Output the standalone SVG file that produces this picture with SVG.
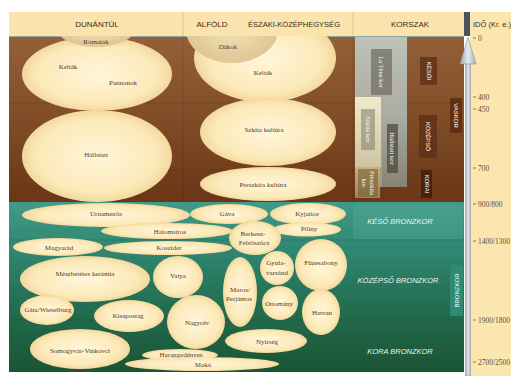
<svg xmlns="http://www.w3.org/2000/svg" width="511" height="376" viewBox="0 0 511 376">
<defs>
  <linearGradient id="brown" x1="0" y1="0" x2="0" y2="1">
    <stop offset="0" stop-color="#93603a"/>
    <stop offset="0.45" stop-color="#824f29"/>
    <stop offset="1" stop-color="#6a3617"/>
  </linearGradient>
  <linearGradient id="green" x1="0" y1="0" x2="0" y2="1">
    <stop offset="0" stop-color="#409b88"/>
    <stop offset="0.3" stop-color="#2f8570"/>
    <stop offset="0.6" stop-color="#236f51"/>
    <stop offset="1" stop-color="#1a5434"/>
  </linearGradient>
  <radialGradient id="cream" cx="0.5" cy="0.5" r="0.5">
    <stop offset="0" stop-color="#fff6da"/>
    <stop offset="0.8" stop-color="#fce9b8"/>
    <stop offset="1" stop-color="#f3d89e"/>
  </radialGradient>
  <radialGradient id="tan" cx="0.5" cy="0.5" r="0.5">
    <stop offset="0" stop-color="#f2e2b8"/>
    <stop offset="1" stop-color="#dfc693"/>
  </radialGradient>
  <linearGradient id="latene" x1="0" y1="0" x2="0" y2="1">
    <stop offset="0" stop-color="#bec2b8"/>
    <stop offset="1" stop-color="#9a9888"/>
  </linearGradient>
  <linearGradient id="szkita" x1="0" y1="0" x2="0" y2="1">
    <stop offset="0" stop-color="#f1e9ca"/>
    <stop offset="1" stop-color="#cdc4a2"/>
  </linearGradient>
  <linearGradient id="hallst" x1="0" y1="0" x2="0" y2="1">
    <stop offset="0" stop-color="#acb0a8"/>
    <stop offset="1" stop-color="#868373"/>
  </linearGradient>
  <linearGradient id="preszk" x1="0" y1="0" x2="0" y2="1">
    <stop offset="0" stop-color="#cfb07a"/>
    <stop offset="1" stop-color="#a6834c"/>
  </linearGradient>
  <linearGradient id="shaft" x1="0" y1="0" x2="1" y2="0">
    <stop offset="0" stop-color="#9ca2ac"/>
    <stop offset="0.5" stop-color="#e6eaf0"/>
    <stop offset="1" stop-color="#a8aeb8"/>
  </linearGradient>
  <clipPath id="ironClip"><rect x="9" y="36" width="344" height="166"/></clipPath>
  <clipPath id="bronzeClip"><rect x="9" y="202" width="344" height="170"/></clipPath>
</defs>
<style>
  .hdr{font-family:"Liberation Sans",Arial,sans-serif;font-size:8px;fill:#3b2b18;text-anchor:middle}
  .lbl{font-family:"Liberation Serif","Times New Roman",serif;font-size:7px;fill:#4d3d2b;text-anchor:middle}
  .ell{fill:url(#cream)}
  .cap{fill:url(#tan)}
  .kl{font-family:"Liberation Serif","Times New Roman",serif;font-size:6.5px;fill:#ffffff;text-anchor:middle}
  .per{font-family:"Liberation Sans",Arial,sans-serif;font-size:6px;fill:#ffffff;text-anchor:middle}
  .brz{font-family:"Liberation Sans",Arial,sans-serif;font-size:7.5px;font-style:italic;fill:#eef4ef;text-anchor:middle}
  .tick{font-family:"Liberation Serif","Times New Roman",serif;font-size:7.5px;fill:#5e4c34}
  .tl{stroke:#6e5c44;stroke-width:0.8}
  .band{stroke:#000;stroke-opacity:0.12;stroke-width:1}
</style>

<rect x="0" y="0" width="511" height="376" fill="#ffffff"/>

<!-- header -->
<g id="header">
  <rect x="9" y="12" width="455" height="24" fill="#fae3ad"/>
  <rect x="470" y="12" width="41" height="364" fill="#fce6b0"/>
  <line x1="183" y1="12" x2="183" y2="36" stroke="#d9c394" stroke-width="1"/>
  <line x1="353" y1="12" x2="353" y2="36" stroke="#d9c394" stroke-width="1"/>
  <rect x="464" y="12" width="6" height="24" fill="#4b535a"/>
  <text class="hdr" x="97" y="27">DUNÁNTÚL</text>
  <text class="hdr" x="212" y="27">ALFÖLD</text>
  <text class="hdr" x="294" y="27" textLength="92" lengthAdjust="spacingAndGlyphs">ÉSZAKI-KÖZÉPHEGYSÉG</text>
  <text class="hdr" x="410" y="27">KORSZAK</text>
  <text class="hdr" x="473" y="27" style="text-anchor:start;font-size:7.5px">IDŐ (Kr. e.)</text>
</g>

<!-- backgrounds -->
<g id="iron-age-bg">
  <rect x="9" y="36" width="455" height="166" fill="url(#brown)"/>
  <line class="band" x1="9" y1="103" x2="464" y2="103"/>
  <line class="band" x1="9" y1="170" x2="464" y2="170"/>
  <line x1="183" y1="36" x2="183" y2="202" stroke="#000" stroke-opacity="0.1"/>
  <line x1="353" y1="36" x2="353" y2="202" stroke="#000" stroke-opacity="0.12"/>
  <line x1="9" y1="36.5" x2="464" y2="36.5" stroke="#8ea6a2" stroke-width="1"/>
</g>
<g id="bronze-age-bg">
  <rect x="9" y="202" width="455" height="170" fill="url(#green)"/>
  <rect x="353" y="205" width="110" height="34" fill="#5fb09a" fill-opacity="0.3"/>
  <line class="band" x1="9" y1="240" x2="464" y2="240"/>
  <line class="band" x1="9" y1="320" x2="464" y2="320"/>
</g>

<!-- iron age cultures -->
<g clip-path="url(#ironClip)">
  <g id="kelta-dunantul">
    <ellipse class="ell" cx="97" cy="74" rx="75" ry="37"/>
    <text class="lbl" x="68" y="69">Kelták</text>
    <text class="lbl" x="123" y="85">Pannonok</text>
  </g>
  <g id="romaiak">
    <ellipse class="cap" cx="96" cy="30" rx="38" ry="17"/>
    <text class="lbl" x="96" y="44">Rómaiak</text>
  </g>
  <g id="hallstatt">
    <ellipse class="ell" cx="97" cy="156" rx="75" ry="46"/>
    <text class="lbl" x="96" y="157">Hallstatt</text>
  </g>
  <g id="kelta-eszak">
    <ellipse class="ell" cx="265" cy="58" rx="71" ry="44"/>
    <text class="lbl" x="263" y="75">Kelták</text>
  </g>
  <g id="dakok">
    <ellipse class="cap" cx="232" cy="30" rx="46" ry="33"/>
    <text class="lbl" x="228" y="49">Dákok</text>
  </g>
  <g id="szkita-kultura">
    <ellipse class="ell" cx="268" cy="132" rx="68" ry="34"/>
    <text class="lbl" x="264" y="132">Szkíta kultúra</text>
  </g>
  <g id="preszkita-kultura">
    <ellipse class="ell" cx="268" cy="184" rx="68" ry="17"/>
    <text class="lbl" x="263" y="187">Preszkíta kultúra</text>
  </g>
</g>

<!-- iron age periods -->
<g id="la-tene-kor">
  <rect x="355" y="37" width="52" height="150" fill="url(#latene)"/>
  <rect x="371" y="49" width="21" height="46" fill="#6f6a5c" fill-opacity="0.7"/>
  <text class="kl" transform="translate(381.5,72) rotate(90)" y="2.2">La Tène kor</text>
</g>
<g id="szkita-kor">
  <rect x="355" y="97" width="26" height="70" fill="url(#szkita)"/>
  <rect x="361" y="109" width="14" height="41" fill="#8a8470" fill-opacity="0.6"/>
  <text class="kl" transform="translate(368,129.5) rotate(90)" y="2.2">Szkíta kor</text>
</g>
<g id="hallstatt-kor">
  <rect x="382" y="110" width="25" height="77" fill="url(#hallst)"/>
  <rect x="387" y="124" width="11" height="49" fill="#4e4a40" fill-opacity="0.75"/>
  <text class="kl" transform="translate(392.5,148.5) rotate(90)" y="2.2">Hallstatt kor</text>
</g>
<g id="preszkita-kor">
  <rect x="355" y="167" width="25" height="31" fill="url(#preszk)"/>
  <rect x="358" y="169" width="20" height="28" fill="#6e5a3a" fill-opacity="0.55"/>
  <text class="kl" transform="translate(368,183) rotate(90)" y="-2">Preszkíta</text>
  <text class="kl" transform="translate(368,183) rotate(90)" y="6">kor</text>
</g>
<g id="kesoi">
  <rect x="420" y="57" width="17" height="28" fill="#5c3016" fill-opacity="0.8"/>
  <text class="per" transform="translate(428.5,71) rotate(90)" y="2">KÉSŐI</text>
</g>
<g id="kozepso">
  <rect x="419" y="115" width="18" height="43" fill="#5c3016" fill-opacity="0.8"/>
  <text class="per" transform="translate(428,136.5) rotate(90)" y="2">KÖZÉPSŐ</text>
</g>
<g id="korai">
  <rect x="421" y="170" width="11" height="28" fill="#461c0c" fill-opacity="0.85"/>
  <text class="per" transform="translate(426.5,184) rotate(90)" y="2">KORAI</text>
</g>
<g id="vaskor">
  <rect x="450" y="98" width="12" height="35" fill="#5a2c12" fill-opacity="0.85"/>
  <text class="per" transform="translate(456,115.5) rotate(90)" y="2">VASKOR</text>
</g>

<!-- bronze age cultures -->
<g clip-path="url(#bronzeClip)">
  <g id="urnamezos"><ellipse class="ell" cx="106" cy="215" rx="84" ry="12"/><text class="lbl" x="106" y="216">Urnamezős</text></g>
  <g id="gava"><ellipse class="ell" cx="229" cy="214" rx="39" ry="10"/><text class="lbl" x="227" y="216">Gáva</text></g>
  <g id="kyjatice"><ellipse class="ell" cx="308" cy="214" rx="38" ry="11"/><text class="lbl" x="307" y="216">Kyjatice</text></g>
  <g id="piliny"><ellipse class="ell" cx="307" cy="229.5" rx="34" ry="7"/><text class="lbl" x="309" y="231">Piliny</text></g>
  <g id="halomsiros"><ellipse class="ell" cx="167" cy="231" rx="66" ry="8"/><text class="lbl" x="170" y="234">Halomsíros</text></g>
  <g id="berkesz"><ellipse class="ell" cx="255" cy="238" rx="26" ry="17"/><text class="lbl" x="253" y="236">Berkesz-</text><text class="lbl" x="254" y="245">Felsőszőcs</text></g>
  <g id="magyarad"><ellipse class="ell" cx="58" cy="247" rx="45" ry="9"/><text class="lbl" x="59" y="250">Magyarád</text></g>
  <g id="koszider"><ellipse class="ell" cx="168" cy="248" rx="64" ry="7"/><text class="lbl" x="169" y="250">Koszider</text></g>
  <g id="meszbetetes"><ellipse class="ell" cx="85" cy="279" rx="65" ry="23"/><text class="lbl" x="85" y="276">Mészbetétes kerámia</text></g>
  <g id="vatya"><ellipse class="ell" cx="178" cy="277" rx="25" ry="21"/><text class="lbl" x="178" y="278">Vatya</text></g>
  <g id="maros"><ellipse class="ell" cx="240" cy="292" rx="17" ry="35"/><text class="lbl" x="240" y="292">Maros/</text><text class="lbl" x="239" y="301">Perjámos</text></g>
  <g id="gyulavarsand"><ellipse class="ell" cx="277" cy="268" rx="17" ry="17"/><text class="lbl" x="276" y="265">Gyula-</text><text class="lbl" x="277" y="275">varsánd</text></g>
  <g id="fuzesabony"><ellipse class="ell" cx="321" cy="265" rx="26" ry="26"/><text class="lbl" x="321" y="265">Füzesabony</text></g>
  <g id="ottomany"><ellipse class="ell" cx="280" cy="303" rx="18" ry="17"/><text class="lbl" x="279" y="306">Ottomány</text></g>
  <g id="hatvan"><ellipse class="ell" cx="321" cy="312" rx="19" ry="23"/><text class="lbl" x="322" y="315">Hatvan</text></g>
  <g id="gata"><ellipse class="ell" cx="47" cy="310" rx="27" ry="15"/><text class="lbl" x="48" y="312">Gáta/Wieselburg</text></g>
  <g id="kisapostag"><ellipse class="ell" cx="129" cy="316" rx="35" ry="16"/><text class="lbl" x="128" y="318">Kisapostag</text></g>
  <g id="nagyrev"><ellipse class="ell" cx="196" cy="322" rx="29" ry="27"/><text class="lbl" x="197" y="325">Nagyrév</text></g>
  <g id="nyirseg"><ellipse class="ell" cx="266" cy="341" rx="41" ry="12"/><text class="lbl" x="267" y="344">Nyírség</text></g>
  <g id="somogyvar"><ellipse class="ell" cx="80" cy="349" rx="50" ry="20"/><text class="lbl" x="80" y="353">Somogyvár-Vinkovci</text></g>
  <g id="harangedenyes"><ellipse class="ell" cx="180" cy="355" rx="38" ry="6"/><text class="lbl" x="181" y="357">Harangedényes</text></g>
  <g id="mako"><ellipse class="ell" cx="202" cy="364" rx="77" ry="7"/><text class="lbl" x="203" y="367">Makó</text></g>
</g>

<!-- bronze age periods -->
<g id="keso-bronzkor"><text class="brz" x="400" y="224">KÉSŐ BRONZKOR</text></g>
<g id="kozepso-bronzkor"><text class="brz" x="398" y="283">KÖZÉPSŐ BRONZKOR</text></g>
<g id="kora-bronzkor"><text class="brz" x="400" y="354">KORA BRONZKOR</text></g>
<g id="bronzkor">
  <rect x="450" y="265" width="13" height="51" fill="#2e8a72"/>
  <text class="per" transform="translate(456.5,290.5) rotate(-90)" y="2">BRONZKOR</text>
</g>

<!-- time axis -->
<g id="time-axis">
  <rect x="465.5" y="62" width="5" height="314" fill="url(#shaft)" stroke="#8c929c" stroke-width="0.5"/>
  <polygon points="468,37 460,64 476,64" fill="url(#shaft)" stroke="#8c929c" stroke-width="0.6"/>
  <line class="tl" x1="473" y1="38" x2="476" y2="38"/><text class="tick" x="478" y="40.5">0</text>
  <line class="tl" x1="473" y1="97" x2="476" y2="97"/><text class="tick" x="478" y="99.5">400</text>
  <line class="tl" x1="473" y1="109" x2="476" y2="109"/><text class="tick" x="478" y="111.5">450</text>
  <line class="tl" x1="473" y1="168" x2="476" y2="168"/><text class="tick" x="478" y="170.5">700</text>
  <line class="tl" x1="473" y1="204" x2="476" y2="204"/><text class="tick" x="478" y="206.5">900/800</text>
  <line class="tl" x1="473" y1="241" x2="476" y2="241"/><text class="tick" x="478" y="243.5">1400/1300</text>
  <line class="tl" x1="473" y1="320" x2="476" y2="320"/><text class="tick" x="478" y="322.5">1900/1800</text>
  <line class="tl" x1="473" y1="362" x2="476" y2="362"/><text class="tick" x="478" y="364.5">2700/2500</text>
</g>
</svg>
